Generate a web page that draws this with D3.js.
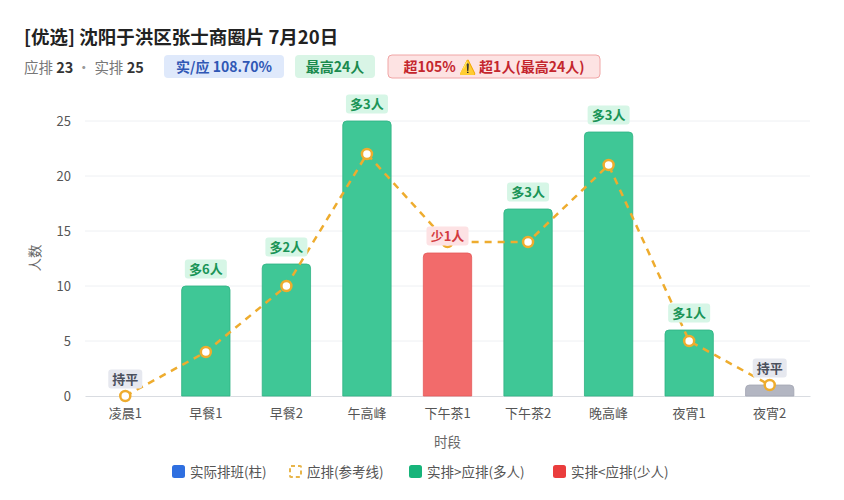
<!DOCTYPE html>
<html><head><meta charset="utf-8">
<script src="https://cdn.jsdelivr.net/npm/d3@7/dist/d3.min.js"></script>
<style>
body{margin:0;background:#fff;font-family:"Noto Sans CJK SC","Noto Sans",sans-serif;}
svg{display:block;}
</style></head>
<body>
<svg id="c" width="844" height="500"></svg>
<script>
const categories = ["凌晨1","早餐1","早餐2","午高峰","下午茶1","下午茶2","晚高峰","夜宵1","夜宵2"];
const actual = [0,10,12,25,13,17,24,6,1];
const planned = [0,4,10,22,14,14,21,5,1];
const yTicks = [0,5,10,15,20,25];
const titleText = "[优选] 沈阳于洪区张士商圈片 7月20日";
const summary = {plan:23, real:25};
const badges = [
  {text:"实/应 108.70%", bg:"#dfe9fb", fg:"#2f57b5", border:"none"},
  {text:"最高24人", bg:"#d9f5e6", fg:"#1b8a4e", border:"none"},
  {text:"超105% ⚠️ 超1人(最高24人)", bg:"#fde3e3", fg:"#c4262d", border:"#f0a6a6"}
];
const legendItems = [
  {label:"实际排班(柱)", type:"blue"},
  {label:"应排(参考线)", type:"dash"},
  {label:"实排>应排(多人)", type:"green"},
  {label:"实排<应排(少人)", type:"red"}
];

const svg = d3.select("#c");
const font = '"Noto Sans CJK SC","Noto Sans",sans-serif';

// Title
svg.append("text").attr("x",24).attr("y",44).attr("font-size",18.5).attr("font-weight","bold")
  .attr("fill","#222").attr("font-family",font).text(titleText);

// Summary line
const sum = svg.append("text").attr("x",24).attr("y",73).attr("font-size",14.5).attr("font-family",font);
sum.append("tspan").attr("fill","#777").text("应排 ");
sum.append("tspan").attr("fill","#333").attr("font-weight","bold").text(summary.plan);
sum.append("tspan").attr("fill","#999").text(" · ");
sum.append("tspan").attr("fill","#777").text("实排 ");
sum.append("tspan").attr("fill","#333").attr("font-weight","bold").text(summary.real);

// Badges
const badgeX = [164,295,388];
const badgeW = [120,80,212];
badges.forEach((b,i)=>{
  const g = svg.append("g").attr("transform",`translate(${badgeX[i]},55)`);
  g.append("rect").attr("width",badgeW[i]).attr("height",23).attr("rx",4)
    .attr("fill",b.bg).attr("stroke",b.border==="none"?"none":b.border).attr("stroke-width",1);
  g.append("text").attr("x",badgeW[i]/2).attr("y",16.5).attr("text-anchor","middle")
    .attr("font-size",14).attr("font-weight","bold").attr("fill",b.fg).attr("font-family",font).text(b.text);
});

// Chart
const m = {left:85, right:810, top:121, bottom:396};
const x = d3.scaleBand().domain(categories).range([m.left,m.right]).paddingInner(0.4).paddingOuter(0.2);
const y = d3.scaleLinear().domain([0,25]).range([m.bottom,m.top]);

// grid
svg.append("g").selectAll("line").data(yTicks.filter(d=>d>0)).join("line")
  .attr("x1",m.left).attr("x2",m.right).attr("y1",d=>y(d)).attr("y2",d=>y(d))
  .attr("stroke","#eef0f3").attr("stroke-width",1);

// y axis
const ya = svg.append("g").attr("transform",`translate(${m.left},0)`)
  .call(d3.axisLeft(y).tickValues(yTicks).tickSize(0).tickPadding(14));
ya.select(".domain").remove();
ya.selectAll("text").attr("font-size",13).attr("fill","#555").attr("font-family",font);

// x axis
const xa = svg.append("g").attr("transform",`translate(0,${m.bottom})`)
  .call(d3.axisBottom(x).tickSize(0).tickPadding(13));
xa.select(".domain").attr("stroke","#d9dce1");
xa.selectAll("text").attr("font-size",13).attr("fill","#555").attr("font-family",font);

// axis titles
svg.append("text").attr("transform",`translate(40,258) rotate(-90)`).attr("text-anchor","middle")
  .attr("font-size",13.5).attr("fill","#666").attr("font-family",font).text("人数");
svg.append("text").attr("x",(m.left+m.right)/2).attr("y",447).attr("text-anchor","middle")
  .attr("font-size",13.5).attr("fill","#666").attr("font-family",font).text("时段");

function barColor(i){
  if(actual[i]>planned[i]) return {fill:"#3fc796", stroke:"#2fb383"};
  if(actual[i]<planned[i]) return {fill:"#f26b6b", stroke:"#e45858"};
  return {fill:"#b3b6c2", stroke:"#a3a6b3"};
}
const bw = x.bandwidth();
const r = 4;
function barPath(x0,y0,w,h){
  const rr = Math.min(r,h/2,w/2);
  if(h<=0) return "";
  return `M${x0},${y0+h}V${y0+rr}Q${x0},${y0} ${x0+rr},${y0}H${x0+w-rr}Q${x0+w},${y0} ${x0+w},${y0+rr}V${y0+h}Z`;
}
svg.append("g").selectAll("path").data(actual).join("path")
  .attr("d",(d,i)=>barPath(x(categories[i]), y(d), bw, y(0)-y(d)))
  .attr("fill",(d,i)=>barColor(i).fill).attr("stroke",(d,i)=>barColor(i).stroke).attr("stroke-width",0.8);

// planned line
const cx = i => x(categories[i]) + bw/2;
svg.append("path").datum(planned)
  .attr("d", d3.line().x((d,i)=>cx(i)).y(d=>y(d)))
  .attr("fill","none").attr("stroke","#eeac2e").attr("stroke-width",2.5).attr("stroke-dasharray","7,6");
svg.append("g").selectAll("circle").data(planned).join("circle")
  .attr("cx",(d,i)=>cx(i)).attr("cy",d=>y(d)).attr("r",5)
  .attr("fill","#fff").attr("stroke","#eeac2e").attr("stroke-width",2.5);

// labels (above the actual bar)
const lab = svg.append("g");
actual.forEach((a,i)=>{
  const diff = a - planned[i];
  let txt, bg, fg;
  if(diff>0){txt=`多${diff}人`; bg="#d6f6e6"; fg="#1a9457";}
  else if(diff<0){txt=`少${-diff}人`; bg="#fde2e4"; fg="#d33b3f";}
  else {txt="持平"; bg="#e6e8ef"; fg="#4a4f5c";}
  const cy = y(a) - 17;
  const w = txt.length===2 ? 34 : 42;
  const g = lab.append("g").attr("transform",`translate(${cx(i)},${cy})`);
  g.append("rect").attr("x",-w/2).attr("y",-9.5).attr("width",w).attr("height",19).attr("rx",3).attr("fill",bg);
  g.append("text").attr("y",4.5).attr("text-anchor","middle").attr("font-size",13).attr("font-weight","bold")
    .attr("fill",fg).attr("font-family",font).text(txt);
});

// legend
const lx = [172,289,409,553];
legendItems.forEach((it,i)=>{
  const g = svg.append("g").attr("transform",`translate(${lx[i]},465)`);
  if(it.type==="dash"){
    g.append("rect").attr("x",1).attr("y",1).attr("width",11).attr("height",11).attr("rx",1)
      .attr("fill","none").attr("stroke","#e8b54a").attr("stroke-width",2).attr("stroke-dasharray","4,3");
  } else {
    const col = it.type==="blue"?"#2f6fe0":it.type==="green"?"#17b47a":"#ea3d3d";
    g.append("rect").attr("width",13).attr("height",13).attr("rx",2.5).attr("fill",col);
  }
  g.append("text").attr("x",18).attr("y",11.5).attr("font-size",13.5).attr("fill","#555")
    .attr("font-family",font).text(it.label);
});
</script>
</body></html>
